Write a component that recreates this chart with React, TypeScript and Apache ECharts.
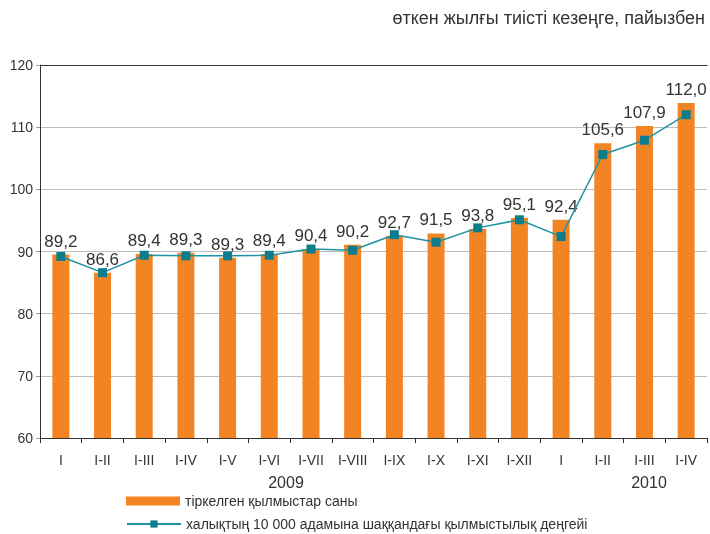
import React, { useEffect, useRef } from "react";
import * as echarts from "echarts";

const categories = ["I", "I-II", "I-III", "I-IV", "I-V", "I-VI", "I-VII", "I-VIII", "I-IX", "I-X", "I-XI", "I-XII", "I", "I-II", "I-III", "I-IV"];
const barValues = [89.5, 86.6, 89.6, 89.8, 89.0, 89.6, 90.4, 91.1, 92.5, 92.9, 93.6, 95.4, 95.1, 107.4, 110.2, 113.9];
const lineValues = [89.2, 86.6, 89.4, 89.3, 89.3, 89.4, 90.4, 90.2, 92.7, 91.5, 93.8, 95.1, 92.4, 105.6, 107.9, 112.0];
const yearLabels = ["2009", "2010"];
const barName = "тіркелген қылмыстар саны";
const lineName = "халықтың 10 000 адамына шаққандағы қылмыстылық деңгейі";
const title = "өткен жылғы тиісті кезеңге, пайызбен";

const FONT = "'Liberation Sans', Arial, sans-serif";

export default function App() {
  const ref = useRef<HTMLDivElement>(null);
  useEffect(() => {
    if (!ref.current) return;
    const chart = echarts.init(ref.current, null, { renderer: "svg" });
    const legendBase = {
      left: 126,
      padding: 0,
      itemWidth: 54,
      itemHeight: 9,
      textStyle: { fontSize: 14, color: "#333", fontFamily: FONT },
    };
    chart.setOption({
      animation: false,
      textStyle: { fontFamily: FONT },
      grid: { left: 40, right: 3, top: 65, bottom: 96, containLabel: false },
      legend: [
        { ...legendBase, top: 494, icon: "rect", data: [barName] },
        { ...legendBase, top: 517, data: [lineName] },
      ],
      graphic: [
        { type: "text", right: 5, top: 9, style: { text: title, font: `18px ${FONT}`, fill: "#333" } },
        { type: "text", x: 286, y: 482, style: { text: yearLabels[0], font: `16px ${FONT}`, fill: "#333", align: "center", verticalAlign: "middle" } },
        { type: "text", x: 649, y: 482, style: { text: yearLabels[1], font: `16px ${FONT}`, fill: "#333", align: "center", verticalAlign: "middle" } },
      ],
      xAxis: [
        {
          type: "category",
          data: categories,
          position: "bottom",
          boundaryGap: true,
          axisLine: { lineStyle: { color: "#333", width: 1 } },
          axisTick: { show: true, alignWithLabel: false, length: 5, lineStyle: { color: "#333" } },
          axisLabel: { fontSize: 14, color: "#333", margin: 15, interval: 0, fontFamily: FONT },
        },
        {
          type: "category",
          data: categories,
          position: "top",
          axisLine: { show: true, lineStyle: { color: "#333", width: 1 } },
          axisTick: { show: false },
          axisLabel: { show: false },
        },
      ],
      yAxis: {
        type: "value",
        min: 60,
        max: 120,
        interval: 10,
        axisLine: { show: true, lineStyle: { color: "#333" } },
        axisTick: { show: true, length: 4, lineStyle: { color: "#999" } },
        axisLabel: { fontSize: 14, color: "#333", margin: 7, fontFamily: FONT },
        splitLine: { lineStyle: { color: "#bdbdbd", width: 1 } },
      },
      series: [
        {
          name: barName,
          type: "bar",
          data: barValues,
          barWidth: 17,
          itemStyle: { color: "#F38423" },
          label: {
            show: true,
            position: "top",
            distance: 5,
            fontSize: 17,
            color: "#333",
            fontFamily: FONT,
            formatter: (p: any) => lineValues[p.dataIndex].toFixed(1).replace(".", ","),
          },
        },
        {
          name: lineName,
          type: "line",
          data: lineValues,
          symbol: "rect",
          symbolSize: 9,
          lineStyle: { color: "#1E93A4", width: 1.5 },
          itemStyle: { color: "#0D7C8B" },
          z: 5,
        },
      ],
    });
    return () => chart.dispose();
  }, []);
  return <div ref={ref} style={{ position: "fixed", left: 0, top: 0, width: 710, height: 534 }} />;
}
